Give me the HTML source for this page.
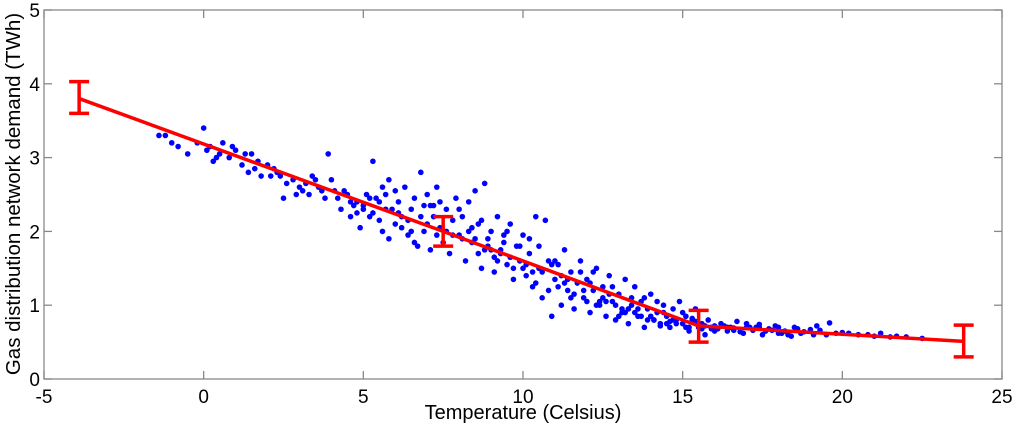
<!DOCTYPE html>
<html><head><meta charset="utf-8"><style>
html,body{margin:0;padding:0;background:#fff;}
svg{display:block;font-family:"Liberation Sans",Arial,sans-serif;}
</style></head><body>
<svg id="chart" width="1016" height="432" xmlns="http://www.w3.org/2000/svg">
<rect x="0" y="0" width="1016" height="432" fill="#fff"/>
<g id="ticks"></g>
<g id="pts"></g>
<g id="fit"></g>
<text x="523" y="419" font-size="20" text-anchor="middle" fill="#000">Temperature (Celsius)</text>
<text transform="translate(20,194) rotate(-90)" font-size="20.5" text-anchor="middle" fill="#000">Gas distribution network demand (TWh)</text>
</svg>
<script>
const xTicks=[-5,0,5,10,15,20,25];
const yTicks=[0,1,2,3,4,5];
const temps=[-1.4,-1.2,-1.0,-0.8,-0.5,-0.2,0,0.1,0.2,0.3,0.5,0.6,0.8,1.0,1.2,1.4,1.5,1.7,1.8,2.0,2.2,2.5,2.6,2.8,3.0,3.1,3.3,3.4,3.6,3.8,3.9,4.0,4.2,4.3,4.5,4.6,4.7,4.8,4.9,5.0,5.1,5.2,5.3,5.4,5.5,5.6,5.7,5.8,5.9,6.0,6.1,6.2,6.3,6.4,6.5,6.6,6.7,6.8,6.9,7.0,7.1,7.2,7.3,7.4,7.5,7.6,7.7,7.8,7.9,8.0,8.1,8.2,8.3,8.4,8.5,8.6,8.7,8.8,8.9,9.0,9.1,9.2,9.3,9.4,9.5,9.6,9.7,9.8,9.9,10.0,10.1,10.2,10.3,10.4,10.5,10.6,10.7,10.8,10.9,11.0,11.1,11.2,11.3,11.4,11.5,11.6,11.7,11.8,11.9,12.0,12.1,12.2,12.3,12.4,12.5,12.6,12.7,12.8,12.9,13.0,13.1,13.2,13.3,13.4,13.5,13.6,13.7,13.8,13.9,14.0,14.1,14.2,14.3,14.4,14.5,14.6,14.7,14.8,14.9,15.0,15.1,15.2,15.3,15.4,15.5,15.6,15.7,15.8,15.9,16.0,16.2,16.4,16.5,16.7,16.9,17.0,17.2,17.4,17.5,17.7,17.9,18.0,18.2,18.4,18.5,18.7,19.0,19.2,19.5,19.6,19.8,20.0,20.5,21.0,21.2,21.5,22.0,22.5,1.3,2.3,4.4,5.5,6.0,6.5,7.0,8.0,8.5,9.0,9.5,10.0,10.5,11.0,11.5,12.0,12.5,13.0,13.5,14.0,14.5,15.0,16.0,17.0,18.0,11.8,12.8,13.8,14.2,12.2,10.2,9.2,8.6,7.4,6.8,5.8,
4.1,4.6,5.0,5.3,5.7,6.2,6.6,7.1,7.6,8.1,8.4,8.8,9.1,9.4,9.7,10.1,10.4,10.8,11.2,11.6,12.1,12.4,12.9,13.2,13.6,14.1,14.4,14.8,15.1,15.4,15.7,16.1,16.4,16.8,17.3,17.8,18.3,18.8,19.3,2.4,3.2,3.7,5.6,6.4,7.2,7.8,8.3,8.9,9.3,9.9,10.6,11.1,11.4,11.9,12.3,12.7,13.1,13.4,13.9,14.3,14.6,15.2,15.6,16.3,16.6,17.1,17.6,18.1,18.6,19.1,20.2,20.8,21.7,0.4,0.9,1.6,2.1,2.9,3.5,4.8,5.2,6.1,6.9,7.3,8.7,9.6,10.3,10.9,11.3,12.6,13.3,13.7,14.7,15.3,15.9,16.6,17.4];
const demands=[3.3,3.3,3.2,3.15,3.05,3.2,3.4,3.1,3.15,2.95,3.05,3.2,3.0,3.1,2.9,2.8,3.05,2.95,2.75,2.9,2.85,2.45,2.65,2.7,2.6,2.55,2.5,2.75,2.6,2.45,3.05,2.7,2.45,2.3,2.5,2.2,2.35,2.4,2.05,2.3,2.5,2.2,2.95,2.45,2.15,2.0,2.5,1.9,2.3,2.1,2.4,2.2,2.6,1.95,2.3,2.45,1.8,2.8,2.0,2.5,1.75,2.2,2.6,2.05,1.85,2.3,1.7,2.15,2.45,1.95,2.2,1.6,2.4,1.85,2.55,2.1,1.5,2.65,1.8,2.0,1.45,2.2,1.7,1.95,1.55,2.1,1.35,1.8,1.6,1.95,1.4,1.7,1.25,2.2,1.5,1.1,2.15,1.6,0.85,1.35,1.55,1.0,1.75,1.2,1.45,0.95,1.3,1.6,1.1,1.35,0.9,1.2,1.5,1.0,1.25,0.85,1.4,1.05,0.8,1.15,0.95,1.35,0.75,1.0,1.25,0.85,1.05,0.7,0.95,1.15,0.8,0.9,0.75,1.0,0.85,0.7,0.95,0.8,1.05,0.75,0.85,0.65,0.8,0.95,0.7,0.75,0.6,0.8,0.68,0.72,0.75,0.65,0.7,0.78,0.62,0.7,0.66,0.74,0.6,0.68,0.72,0.62,0.65,0.58,0.7,0.62,0.67,0.72,0.6,0.76,0.62,0.63,0.6,0.58,0.62,0.57,0.57,0.55,3.05,2.8,2.55,2.4,2.55,2.0,2.1,2.3,1.9,1.75,2.0,1.5,1.8,1.6,1.1,1.05,1.1,0.85,0.9,0.85,0.75,0.9,0.65,0.75,0.7,1.45,1.25,1.1,1.05,1.45,1.9,1.6,1.7,2.4,2.2,2.7,
2.55,2.4,2.35,2.25,2.3,2.05,1.85,2.35,2.0,1.9,2.05,1.75,1.65,1.85,1.5,1.55,1.3,1.2,1.4,1.15,1.3,1.05,1.0,0.9,0.95,0.8,0.9,0.75,0.7,0.78,0.72,0.68,0.7,0.64,0.7,0.66,0.6,0.64,0.66,2.75,2.65,2.55,2.6,2.15,2.35,1.95,2.0,1.9,1.75,1.8,1.45,1.25,1.35,1.2,1.0,1.15,0.9,1.1,0.8,0.72,0.78,0.7,0.68,0.72,0.66,0.7,0.65,0.62,0.68,0.6,0.62,0.6,0.58,3.0,3.15,2.85,2.75,2.5,2.7,2.25,2.45,2.25,2.35,1.95,2.15,1.65,1.45,1.55,1.3,1.05,0.95,0.85,0.8,0.82,0.7,0.69,0.7];
const fitT=[-3.9,7.5,15.5,23.8];
const fitD=[3.8,2.0,0.72,0.51];
const errLo=[3.6,1.8,0.5,0.3];
const errHi=[4.03,2.2,0.93,0.73];

const X0=44,X1=1002,Y0=379,Y1=10;
const sx=v=>X0+(v+5)/30*(X1-X0);
const sy=v=>Y0-v/5*(Y0-Y1);
const NS="http://www.w3.org/2000/svg";
function mk(tag,attrs,parent){const e=document.createElementNS(NS,tag);for(const k in attrs)e.setAttribute(k,attrs[k]);parent.appendChild(e);return e;}
const ax=document.getElementById('ticks');
const box=mk('rect',{x:X0,y:Y1,width:X1-X0,height:Y0-Y1,fill:'none',stroke:'#888','stroke-width':1.3},ax);


xTicks.forEach(t=>{
  const x=sx(t);
  mk('line',{x1:x,x2:x,y1:Y0,y2:Y0-8,stroke:'#888','stroke-width':1.3},ax);
  mk('line',{x1:x,x2:x,y1:Y1,y2:Y1+8,stroke:'#888','stroke-width':1.3},ax);
  const tx=mk('text',{x:x,y:Y0+24,'font-size':19,'text-anchor':'middle',fill:'#000'},ax);
  tx.textContent=t;
  
  
});
yTicks.forEach(t=>{
  const y=sy(t);
  mk('line',{x1:X0,x2:X0+8,y1:y,y2:y,stroke:'#888','stroke-width':1.3},ax);
  mk('line',{x1:X1,x2:X1-8,y1:y,y2:y,stroke:'#888','stroke-width':1.3},ax);
  const tx=mk('text',{x:X0-4,y:y+7,'font-size':19,'text-anchor':'end',fill:'#000'},ax);
  tx.textContent=t;
  
  
});
const pg=document.getElementById('pts');
temps.forEach((t,i)=>{
  const c=mk('circle',{cx:sx(t),cy:sy(demands[i]),r:2.8,fill:'#0000ff'},pg);
  
  
});
const fg=document.getElementById('fit');
const pl=mk('polyline',{points:fitT.map((t,i)=>sx(t)+','+sy(fitD[i])).join(' '),fill:'none',stroke:'#ff0000','stroke-width':3.5,'stroke-linejoin':'round'},fg);


fitT.forEach((t,i)=>{
  const x=sx(t),lo=sy(errLo[i]),hi=sy(errHi[i]);
  const g=mk('g',{stroke:'#ff0000','stroke-width':3.5},fg);
  
  
  mk('line',{x1:x,x2:x,y1:lo,y2:hi},g);
  mk('line',{x1:x-10,x2:x+10,y1:lo,y2:lo},g);
  mk('line',{x1:x-10,x2:x+10,y1:hi,y2:hi},g);
});
</script>
</body></html>
